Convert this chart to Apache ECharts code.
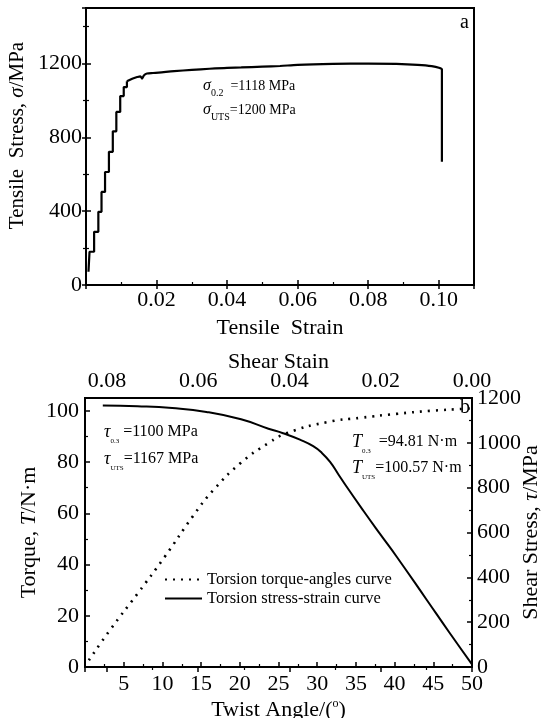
<!DOCTYPE html>
<html><head><meta charset="utf-8">
<script src="https://cdn.jsdelivr.net/npm/echarts@6/dist/echarts.min.js"></script>
<style>html,body{margin:0;padding:0;background:#fff}#c{width:541px;height:718px}</style>
</head><body><div id="c"></div>
<script>
// ---- Data: tensile test (chart a) ----
var tensileStepStrain = [0.0007, 0.0010, 0.0023, 0.0035, 0.0044, 0.0054, 0.0065, 0.0076, 0.0086, 0.0097, 0.0107, 0.0116];
var tensileStepStress = [72, 180, 288, 396, 504, 612, 721, 832, 937, 1023, 1072, 1103];
var tensileCurveStrain = [0.0116, 0.0131, 0.0145, 0.0154, 0.0159, 0.0164, 0.0173, 0.0190, 0.0206, 0.025, 0.030, 0.035, 0.040, 0.044, 0.050, 0.055, 0.060, 0.070, 0.080, 0.088, 0.094, 0.098, 0.1003, 0.1009, 0.1009];
var tensileCurveStress = [1103, 1117, 1126, 1130, 1118, 1134, 1145, 1148, 1150, 1158, 1165, 1171, 1176, 1178, 1182, 1186, 1192, 1197, 1199, 1197, 1192, 1185, 1175, 1168, 668];
// ---- Data: torsion test (chart b) ----
var twistAngle = [0.5, 3.2, 6.8, 10.3, 13.9, 16.6, 20.1, 23.7, 26.1, 31.3, 35.7, 40.2, 44.7, 49.1, 50];
var torque = [2.6, 14.3, 28.7, 43.0, 58.7, 69.1, 79.6, 87.4, 91.3, 95.6, 97.3, 98.8, 100.0, 100.8, 101.0];
var shearStrain = [0.0809, 0.0733, 0.0657, 0.0582, 0.0506, 0.0446, 0.0414, 0.0377, 0.0348, 0.0329, 0.0311, 0.0293, 0.0275, 0.0238, 0.0202, 0.0165, 0.0099, 0.0050, 0.0];
var shearStress = [1166, 1163, 1155, 1138, 1105, 1063, 1043, 1014, 985, 955, 915, 860, 805, 697, 595, 492, 299, 155, 12];
// ---- Tick labels / texts ----
var legendNames = ['Torsion torque-angles curve', 'Torsion stress-strain curve'];

function zip(a, b) { return a.map(function (v, i) { return [v, b[i]]; }); }

var FONT = '"Liberation Serif", "Times New Roman", serif';
var chart = echarts.init(document.getElementById('c'), null, {renderer: 'canvas'});

var axisBase = {
  nameMoveOverlap: false,
  axisLine: {show: true, lineStyle: {color: '#000', width: 2}},
  axisTick: {show: true, inside: true, length: 5, lineStyle: {color: '#000', width: 1.5}},
  minorTick: {show: true, splitNumber: 2, length: 3, lineStyle: {color: '#000', width: 1.2}},
  splitLine: {show: false},
  axisLabel: {color: '#000', fontFamily: FONT, fontSize: 22, margin: 6},
  nameTextStyle: {color: '#000', fontFamily: FONT, fontSize: 22}
};
function ax(o) { return echarts.util.merge(echarts.util.clone(axisBase), o, true); }

function richName(size) {
  return {
    i: {fontStyle: 'italic', fontFamily: FONT, fontSize: size, color: '#000'},
    sup: {fontFamily: FONT, fontSize: 12, color: '#000', padding: [0, 0, 12, 0]}
  };
}

var annRich = {
  s: {fontStyle: 'italic', fontFamily: FONT, fontSize: 16, color: '#000', lineHeight: 18},
  sub: {fontFamily: FONT, fontSize: 10, color: '#000', lineHeight: 24, verticalAlign: 'bottom'},
  v: {fontFamily: FONT, fontSize: 14, color: '#000', lineHeight: 18},
  S: {fontStyle: 'italic', fontFamily: FONT, fontSize: 18, color: '#000', lineHeight: 20},
  subs: {fontFamily: FONT, fontSize: 7, color: '#000', lineHeight: 26, verticalAlign: 'bottom'},
  V: {fontFamily: FONT, fontSize: 16, color: '#000', lineHeight: 20}
};
function ann(x, y, text, size) {
  return {type: 'text', left: x, top: y, style: {text: text, rich: annRich, fill: '#000', font: (size || 14) + 'px ' + FONT}};
}

var option = {
  backgroundColor: '#fff',
  animation: false,
  grid: [
    {left: 86, top: 8, width: 388, height: 277, show: true, borderColor: '#000', borderWidth: 2,
     backgroundColor: 'transparent', outerBoundsMode: 'none', containLabel: false},
    {left: 85, top: 398, width: 387, height: 269, show: true, borderColor: '#000', borderWidth: 2,
     backgroundColor: 'transparent', outerBoundsMode: 'none', containLabel: false}
  ],
  xAxis: [
    ax({gridIndex: 0, type: 'value', min: 0, max: 0.11, interval: 0.02, position: 'bottom',
        name: 'Tensile  Strain', nameLocation: 'middle', nameGap: 32,
        axisLabel: {margin: 4, formatter: function (v) { return (v > 0 && Math.abs(v / 0.02 - Math.round(v / 0.02)) < 1e-6) ? v.toFixed(2) : ''; }}}),
    ax({gridIndex: 0, type: 'value', min: 0, max: 0.11, interval: 0.02, position: 'top',
        axisLabel: {show: false}, axisLine: {show: false}, minorTick: {show: false}, axisTick: {length: 4}}),
    ax({gridIndex: 1, type: 'value', min: 0, max: 50, interval: 5, position: 'bottom',
        name: 'Twist Angle/({sup|o})', nameLocation: 'middle', nameGap: 31,
        nameTextStyle: {rich: richName(22)},
        axisLabel: {margin: 6, formatter: function (v) { return v === 0 ? '' : String(v); }}}),
    ax({gridIndex: 1, type: 'value', min: 0, max: 0.0848, interval: 0.02, position: 'top', inverse: true, offset: 5,
        name: 'Shear Stain', nameLocation: 'middle', nameGap: 20,
        axisLabel: {margin: 1, formatter: function (v) { return (Math.abs(v / 0.02 - Math.round(v / 0.02)) < 1e-6) ? v.toFixed(2) : ''; }}})
  ],
  yAxis: [
    ax({gridIndex: 0, type: 'value', min: 0, max: 1500, interval: 400, position: 'left',
        name: 'Tensile  Stress, {i|σ}/MPa', nameLocation: 'middle', nameGap: 58, nameRotate: 90,
        nameTextStyle: {fontSize: 21, rich: richName(21), padding: [0, 0, 0, 22]},
        axisLabel: {margin: 4, formatter: function (v) { return v % 400 === 0 ? String(v) : ''; }}}),
    ax({gridIndex: 0, type: 'value', min: 0, max: 1500, interval: 400, position: 'right',
        axisLabel: {show: false}, axisLine: {show: false}, axisTick: {length: 4}}),
    ax({gridIndex: 1, type: 'value', min: 0, max: 105, interval: 20, position: 'left',
        name: 'Torque, {i|T}/N·m', nameLocation: 'middle', nameGap: 45, nameRotate: 90,
        nameTextStyle: {rich: richName(22)},
        axisLabel: {margin: 6, formatter: function (v) { return v % 20 === 0 ? String(v) : ''; }}}),
    ax({gridIndex: 1, type: 'value', min: 0, max: 1200, interval: 200, position: 'right',
        name: 'Shear Stress, {i|τ}/MPa', nameLocation: 'middle', nameGap: 48, nameRotate: 90,
        nameTextStyle: {rich: richName(22)},
        axisLabel: {margin: 5, formatter: function (v) { return String(v); }}})
  ],
  legend: {
    data: legendNames, orient: 'vertical', left: 159, top: 566, itemWidth: 37, itemHeight: 14, itemGap: 2,
    textStyle: {fontFamily: FONT, fontSize: 16.5, color: '#000'},
    itemStyle: {opacity: 0},
    selectedMode: false
  },
  series: [
    {type: 'line', name: 'tensileSteps', xAxisIndex: 0, yAxisIndex: 0, step: 'end', symbol: 'none',
     data: zip(tensileStepStrain, tensileStepStress), lineStyle: {color: '#000', width: 2.2}},
    {type: 'line', name: 'tensileCurve', xAxisIndex: 0, yAxisIndex: 0, symbol: 'none', smooth: 0.3,
     data: zip(tensileCurveStrain, tensileCurveStress), lineStyle: {color: '#000', width: 2.2}},
    {type: 'line', name: legendNames[0], xAxisIndex: 2, yAxisIndex: 2, symbol: 'none', smooth: true,
     data: zip(twistAngle, torque), lineStyle: {color: '#000', width: 2.6, type: [2, 6]}, itemStyle: {color: '#000'}},
    {type: 'line', name: legendNames[1], xAxisIndex: 3, yAxisIndex: 3, symbol: 'none', smooth: 0.5,
     data: zip(shearStrain, shearStress), lineStyle: {color: '#000', width: 2}, itemStyle: {color: '#000'}}
  ],
  graphic: [
    ann(460, 13, 'a', 20),
    ann(203, 78, '{s|σ}{sub|0.2}{v|  =1118 MPa}'),
    ann(203, 102, '{s|σ}{sub|UTS}{v|=1200 MPa}'),
    ann(460, 398, 'b', 20),
    ann(104, 423, '{S|τ}{subs|0.3}{V| =1100 MPa}'),
    ann(104, 450, '{S|τ}{subs|UTS}{V|=1167 MPa}'),
    ann(352, 433, '{S|T}{subs|0.3}{V|  =94.81 N·m}'),
    ann(352, 459, '{S|T}{subs|UTS}{V|=100.57 N·m}')
  ]
};
chart.setOption(option);
</script></body></html>
